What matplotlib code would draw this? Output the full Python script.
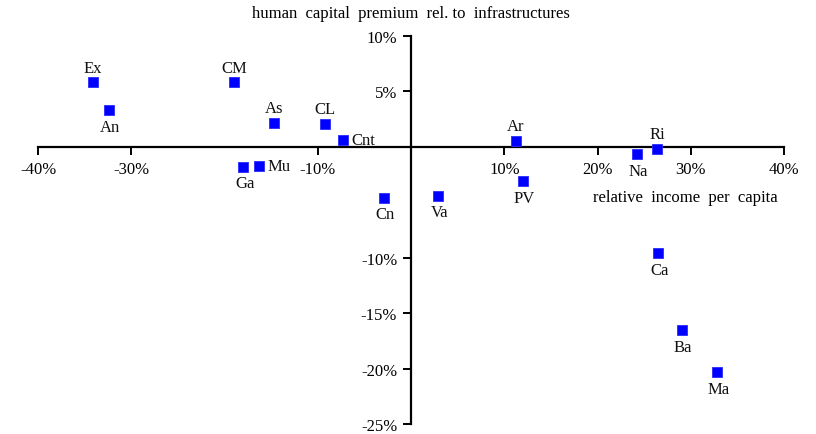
import matplotlib
matplotlib.use("Agg")
import matplotlib.pyplot as plt
from matplotlib.ticker import FuncFormatter

# Regions: relative income per capita (%) vs human capital premium (%)
labels = ["Ex", "An", "CM", "As", "CL", "Cnt", "Ga", "Mu", "Cn", "Va",
          "Ar", "PV", "Na", "Ri", "Ca", "Ba", "Ma"]
income = [-34.1, -32.4, -19.0, -14.7, -9.2, -7.3, -18.0, -16.3, -2.9, 2.9,
          11.25, 12.0, 24.2, 26.4, 26.5, 29.0, 32.8]
premium = [5.8, 3.3, 5.8, 2.15, 2.06, 0.63, -1.8, -1.7, -4.6, -4.4,
           0.54, -3.1, -0.7, -0.2, -9.6, -16.5, -20.3]
placement = ["above", "below", "above", "above", "above", "right", "below",
             "right", "below", "below", "above", "below", "below", "above",
             "below", "below", "below"]

x_ticks = [-40, -30, -10, 0, 10, 20, 30, 40]
y_ticks = [10, 5, 0, -10, -15, -20, -25]

plt.rcParams["font.family"] = ["Liberation Serif", "DejaVu Serif"]
FS = 12

fig = plt.figure(figsize=(8.16, 4.35), dpi=100)
ax = fig.add_axes([0.0466, 0.022, 0.9144, 0.894])

ax.scatter(income, premium, marker="s", s=46, color="#0000ff",
           edgecolors="#2a2aff", linewidths=0.6, zorder=3)

offsets = {"above": (0, 10.5, "center", "center"),
           "below": (1, -12, "center", "center"),
           "right": (6, -0.5, "left", "center")}
for lab, x, y, pl in zip(labels, income, premium, placement):
    dx, dy, ha, va = offsets[pl]
    ax.annotate(lab, (x, y), xytext=(dx, dy), textcoords="offset points",
                ha=ha, va=va, fontsize=FS, color="#111111")

ax.set_xlim(-40, 40)
ax.set_ylim(-25, 10)
for side in ("top", "right"):
    ax.spines[side].set_visible(False)
ax.spines["left"].set_position(("data", 0))
ax.spines["bottom"].set_position(("data", 0))
for side in ("left", "bottom"):
    ax.spines[side].set_linewidth(1.6)

ax.set_xticks(x_ticks)
ax.set_yticks(y_ticks)
pct = FuncFormatter(lambda v, p: "" if v == 0 else f"{v:.0f}%")
ax.xaxis.set_major_formatter(pct)
ax.yaxis.set_major_formatter(pct)
ax.tick_params(axis="x", direction="out", length=6, width=1.4, pad=4,
               labelsize=FS)
ax.tick_params(axis="y", direction="out", length=6, width=1.4, pad=4,
               labelsize=FS)

fig.text(0.503, 0.968, "human  capital  premium  rel. to  infrastructures",
         ha="center", va="center", fontsize=FS)
ax.text(29.4, -4.5, "relative  income  per  capita", ha="center",
        va="center", fontsize=FS)

fig.savefig("out.png", dpi=100)
